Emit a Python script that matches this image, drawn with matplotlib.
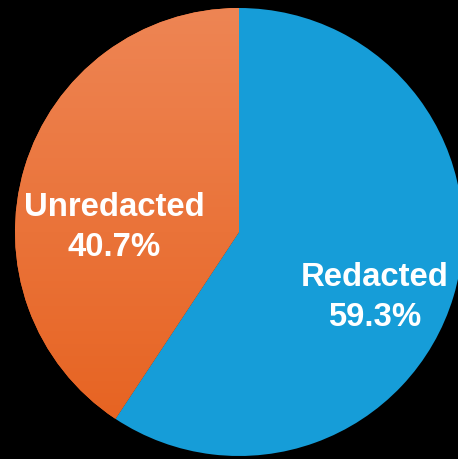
import numpy as np
import matplotlib.pyplot as plt
from matplotlib.colors import LinearSegmentedColormap

# Data
labels = ['Redacted', 'Unredacted']
shares = [59.3, 40.7]
colors = ['#169DD8', '#EA6A2A']

fig = plt.figure(figsize=(4.58, 4.59), dpi=100, facecolor='black')
ax = fig.add_axes([0, 0, 1, 1])
ax.set_facecolor('black')

cx, cy, r = 239, 227, 224
wedges, _ = ax.pie(shares, colors=colors, startangle=90, counterclock=False,
                   center=(cx, cy), radius=r, frame=True,
                   wedgeprops=dict(linewidth=0))

# orange slice has a soft vertical gradient
cmap = LinearSegmentedColormap.from_list('og', ['#E6611E', '#EE8554'])
grad = np.linspace(0, 1, 256).reshape(-1, 1)
im = ax.imshow(grad, cmap=cmap, origin='lower', aspect='auto',
               extent=(cx - r, cx, cy - r, cy + r), zorder=wedges[1].get_zorder() + 0.1)
im.set_clip_path(wedges[1])
ax.set_xlim(0, 458)
ax.set_ylim(0, 459)
ax.set_aspect('equal')
ax.axis('off')

font = dict(family=['Liberation Sans', 'DejaVu Sans'], weight='bold',
            color='white', fontsize=23.7, ha='center', va='center')
ax.text(114, 459 - 208, labels[1], **font)
ax.text(114, 459 - 248, f'{shares[1]}%', **font)
ax.text(375, 459 - 277, labels[0], **font)
ax.text(375, 459 - 317, f'{shares[0]}%', **font)

fig.savefig('out.png', dpi=100, facecolor='black')
